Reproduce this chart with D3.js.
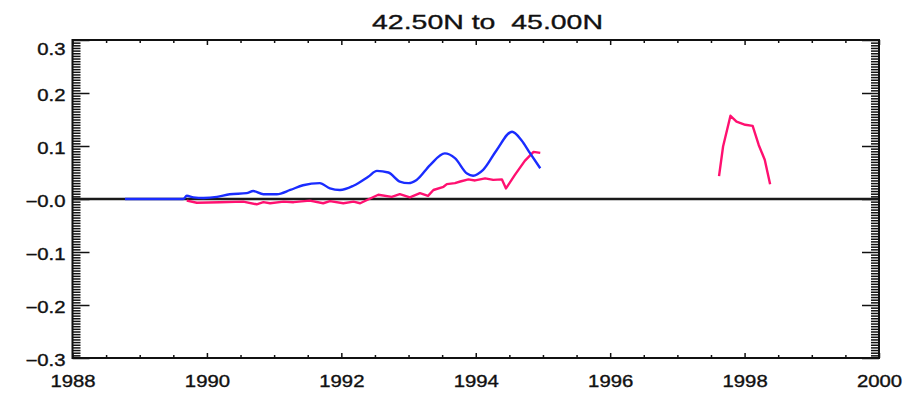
<!DOCTYPE html>
<html>
<head>
<meta charset="utf-8">
<script src="https://cdn.jsdelivr.net/npm/d3@7"></script>
<style>
  body { margin: 0; background: #fff; }
  text { font-family: "Liberation Sans", Arial, sans-serif; fill: #111; stroke: #111; stroke-width: 0.35px; }
</style>
</head>
<body>
<div id="chart"></div>
<script>
// data (decimal years, anomaly)
var blueYears = [1988.78, 1989.65, 1989.70, 1989.80, 1989.95, 1990.15, 1990.34, 1990.59, 1990.69, 1990.84,
                 1991.04, 1991.24, 1991.43, 1991.68, 1991.83, 1991.98, 1992.18, 1992.40, 1992.53, 1992.70,
                 1992.87, 1993.00, 1993.12, 1993.32, 1993.54, 1993.69, 1993.87, 1993.96, 1994.11, 1994.31,
                 1994.54, 1994.68, 1994.81, 1994.96];
var blueValues = [0, 0, 0.006, 0.003, 0.002, 0.004, 0.009, 0.011, 0.015, 0.009,
                  0.009, 0.017, 0.026, 0.030, 0.020, 0.017, 0.025, 0.042, 0.053, 0.050,
                  0.033, 0.030, 0.036, 0.064, 0.086, 0.077, 0.048, 0.044, 0.055, 0.092,
                  0.127, 0.111, 0.086, 0.058];

// null = gap in the record
var pinkYears = [1989.70, 1989.85, 1990.19, 1990.54, 1990.74, 1990.84, 1990.94, 1991.14, 1991.29, 1991.53,
                 1991.73, 1991.83, 1992.03, 1992.18, 1992.28, 1992.43, 1992.55, 1992.75, 1992.87, 1993.02,
                 1993.17, 1993.29, 1993.37, 1993.52, 1993.57, 1993.69, 1993.77, 1993.89, 1993.99, 1994.14,
                 1994.26, 1994.39, 1994.45, 1994.58, 1994.73, 1994.86, 1994.96,
                 1996.0,
                 1997.62, 1997.68, 1997.79, 1997.88, 1998.01, 1998.12, 1998.21, 1998.30, 1998.38];
var pinkValues = [-0.003, -0.007, -0.006, -0.005, -0.010, -0.006, -0.008, -0.005, -0.006, -0.003,
                  -0.008, -0.004, -0.008, -0.005, -0.008, 0.001, 0.008, 0.004, 0.009, 0.003,
                  0.011, 0.006, 0.017, 0.023, 0.028, 0.030, 0.033, 0.037, 0.035, 0.039,
                  0.036, 0.037, 0.020, 0.045, 0.072, 0.089, 0.087,
                  null,
                  0.043, 0.099, 0.157, 0.146, 0.140, 0.138, 0.102, 0.074, 0.028];

var xMajor = [1988, 1990, 1992, 1994, 1996, 1998, 2000];
var yMajor = [0.3, 0.2, 0.1, 0, -0.1, -0.2, -0.3];
var titleText = "42.50N to  45.00N";

var margin = {top: 40, right: 41, bottom: 38, left: 72.5}
  , width = 920 - margin.left - margin.right
  , height = 396 - margin.top - margin.bottom;

var xScale = d3.scaleLinear().domain([1988, 2000]).range([0, width]);
var yScale = d3.scaleLinear().domain([-0.3, 0.3]).range([height, 0]);

var xMinor = d3.range(1988, 2000.01, 0.5).filter(function(d) { return d % 2 != 0; });
var yMinor = d3.range(-300, 301, 5).map(function(d) { return d / 1000; })
    .filter(function(d) { return Math.round(d * 1000) % 100 != 0; });

var svg = d3.select("#chart").append("svg")
    .attr("width", 920)
    .attr("height", 396)
  .append("g")
    .attr("transform", "translate(" + margin.left + "," + margin.top + ")");

function yLabel(d) {
    var s = Math.abs(d).toFixed(1);
    return (d <= 0 ? "\u2212" : "") + s;
}

// ticks on all four sides, pointing in
function addTicks(axis, tr, cls) {
    var g = svg.append("g").attr("class", cls).attr("transform", tr).call(axis);
    g.select(".domain").remove();
    g.selectAll("line").attr("stroke", "#111").attr("stroke-width", 1.5);
    return g;
}
addTicks(d3.axisBottom(xScale).tickValues(xMinor).tickSize(-3).tickFormat(""), "translate(0," + height + ")", "xminor");
addTicks(d3.axisTop(xScale).tickValues(xMinor).tickSize(-3).tickFormat(""), "translate(0,0)", "xminor");
addTicks(d3.axisLeft(yScale).tickValues(yMinor).tickSize(-8).tickFormat(""), "translate(0,0)", "yminor");
addTicks(d3.axisRight(yScale).tickValues(yMinor).tickSize(-8).tickFormat(""), "translate(" + width + ",0)", "yminor");
addTicks(d3.axisTop(xScale).tickValues(xMajor).tickSize(-5).tickFormat(""), "translate(0,0)", "xmajor");
addTicks(d3.axisRight(yScale).tickValues(yMajor).tickSize(-17).tickFormat(""), "translate(" + width + ",0)", "ymajor");

// labelled axes
var xAxis = addTicks(d3.axisBottom(xScale).tickValues(xMajor).tickSize(-5).tickFormat(d3.format("d")),
    "translate(0," + height + ")", "x axis");
xAxis.selectAll("text")
    .attr("y", null).attr("dy", "0.36em")
    .attr("font-size", "16px")
    .attr("transform", "translate(0,23) scale(1.27,1)");

var yAxis = addTicks(d3.axisLeft(yScale).tickValues(yMajor).tickSize(-17).tickFormat(yLabel),
    "translate(0,0)", "y axis");
yAxis.selectAll("text")
    .attr("x", null).attr("dy", "0.36em")
    .attr("font-size", "16px")
    .attr("transform", function(d) { return "translate(-7," + (d >= 0.3 ? 9 : 2) + ") scale(1.27,1)"; });

// zero line
svg.append("line")
    .attr("x1", 0).attr("x2", width)
    .attr("y1", yScale(0)).attr("y2", yScale(0))
    .attr("stroke", "#1a1a1a").attr("stroke-width", 2.4);

var blueLine = d3.line()
    .x(function(d, i) { return xScale(blueYears[i]); })
    .y(function(d) { return yScale(d); })
    .curve(d3.curveMonotoneX);

var pinkLine = d3.line()
    .defined(function(d) { return d != null; })
    .x(function(d, i) { return xScale(pinkYears[i]); })
    .y(function(d) { return yScale(d); });

svg.append("path")
    .datum(pinkValues)
    .attr("fill", "none")
    .attr("stroke", "#ff1070")
    .attr("stroke-width", 2.4)
    .attr("stroke-linejoin", "round")
    .attr("d", pinkLine);

svg.append("path")
    .datum(blueValues)
    .attr("fill", "none")
    .attr("stroke", "#1a2cff")
    .attr("stroke-width", 2.4)
    .attr("stroke-linejoin", "round")
    .attr("d", blueLine);

// frame
svg.append("rect")
    .attr("width", width).attr("height", height)
    .attr("fill", "none").attr("stroke", "#111").attr("stroke-width", 2);

svg.append("text")
    .attr("x", 372 - margin.left)
    .attr("y", 28.5 - margin.top)
    .attr("font-size", "21px")
    .attr("textLength", 231)
    .attr("lengthAdjust", "spacingAndGlyphs")
    .style("white-space", "pre")
    .text(titleText);
</script>
</body>
</html>
